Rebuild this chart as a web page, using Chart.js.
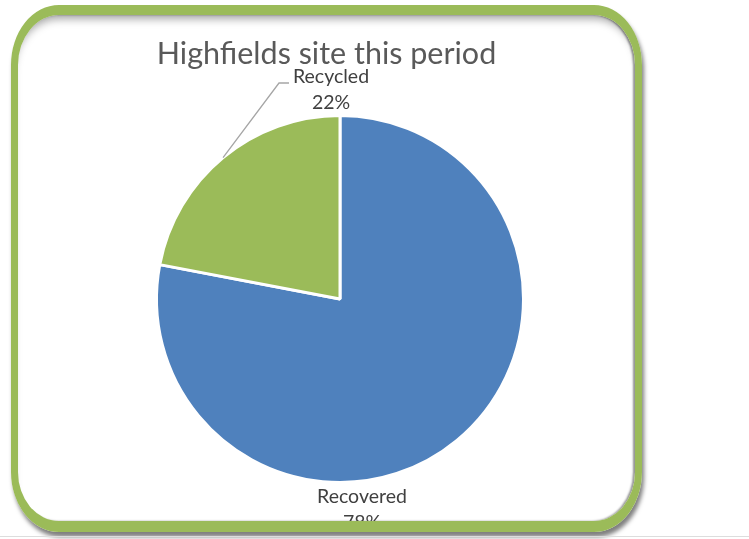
<!DOCTYPE html>
<html>
<head>
<meta charset="utf-8">
<title>Highfields site this period</title>
<script src="https://cdn.jsdelivr.net/npm/chart.js@4"></script>
<style>
  body { margin: 0; background: #fff; width: 749px; height: 539px; overflow: hidden; position: relative; }
  #frame {
    position: absolute; left: 11px; top: 5px; width: 631px; height: 527px;
    box-sizing: border-box; overflow: hidden;
    border-style: solid; border-color: #9bbb59; border-width: 10px 7px 11px 7px;
    border-radius: 48px / 60px;
    box-shadow: 2px 5px 4px rgba(0,0,0,0.5), inset 0 9px 8px -5px rgba(0,0,0,0.35), inset -2px 0 2px rgba(0,0,0,0.4);
  }
  #chart { position: absolute; left: -18px; top: -15px; }
  #baseline { position: absolute; left: 0; top: 536px; width: 749px; height: 1px; background: #ddd; }
</style>
</head>
<body>
<div id="frame"><canvas id="chart" width="749" height="539"></canvas></div>
<div id="baseline"></div>
<script>
const chartTitle = 'Highfields site this period';
const categories = ['Recovered', 'Recycled'];
const shares = [78, 22];
const sliceColours = ['#4f81bd', '#9bbb59'];

const fontFamily = 'Lato, "Open Sans", sans-serif';

// title drawn by hand so the plot area stays where we want it
const titlePlugin = {
    id: 'titleText',
    afterDraw(chart) {
        let ctx = chart.ctx;
        ctx.save();
        ctx.font = '30.5px ' + fontFamily;
        ctx.fillStyle = '#595959';
        ctx.textAlign = 'center';
        ctx.textBaseline = 'alphabetic';
        ctx.fillText(chartTitle, 326.5, 64);
        ctx.restore();
    }
};

// data labels outside the pie, Recycled one with a leader line
const calloutLabels = {
    id: 'calloutLabels',
    afterDatasetsDraw(chart) {
        let ctx = chart.ctx;
        let arcs = chart.getDatasetMeta(0).data;
        ctx.save();
        ctx.font = '19.5px ' + fontFamily;
        ctx.fillStyle = '#404040';
        ctx.textAlign = 'center';
        ctx.textBaseline = 'alphabetic';
        arcs.forEach((arc, i) => {
            let r = arc.outerRadius;
            let pct = shares[i] + '%';
            if (i === 0) {
                let bottom = arc.y + r;
                ctx.fillText(categories[i], arc.x + 22, bottom + 20.5);
                ctx.fillText(pct, arc.x + 22, bottom + 46.5);
            } else {
                let top = arc.y - r;
                let mid = (arc.startAngle + arc.endAngle) / 2;
                ctx.strokeStyle = '#a6a6a6';
                ctx.lineWidth = 1.3;
                ctx.beginPath();
                ctx.moveTo(arc.x + Math.cos(mid) * r, arc.y + Math.sin(mid) * r);
                ctx.lineTo(arc.x - 61, top - 32.5);
                ctx.lineTo(arc.x - 51, top - 32.5);
                ctx.stroke();
                ctx.fillText(categories[i], arc.x - 9, top - 32.5);
                ctx.fillText(pct, arc.x - 9, top - 6.5);
            }
        });
        ctx.restore();
    }
};

let ctx = document.getElementById('chart').getContext('2d');
let chart = new Chart(ctx, {
    type: 'pie',
    data: {
        labels: categories,
        datasets: [{
            data: shares,
            backgroundColor: sliceColours,
            borderColor: '#ffffff',
            borderWidth: 3
        }]
    },
    options: {
        responsive: false,
        animation: false,
        layout: {
            padding: { left: 155, right: 224, top: 114, bottom: 55 }
        },
        plugins: {
            legend: { display: false },
            tooltip: { enabled: false }
        }
    },
    plugins: [titlePlugin, calloutLabels]
});
</script>
</body>
</html>
